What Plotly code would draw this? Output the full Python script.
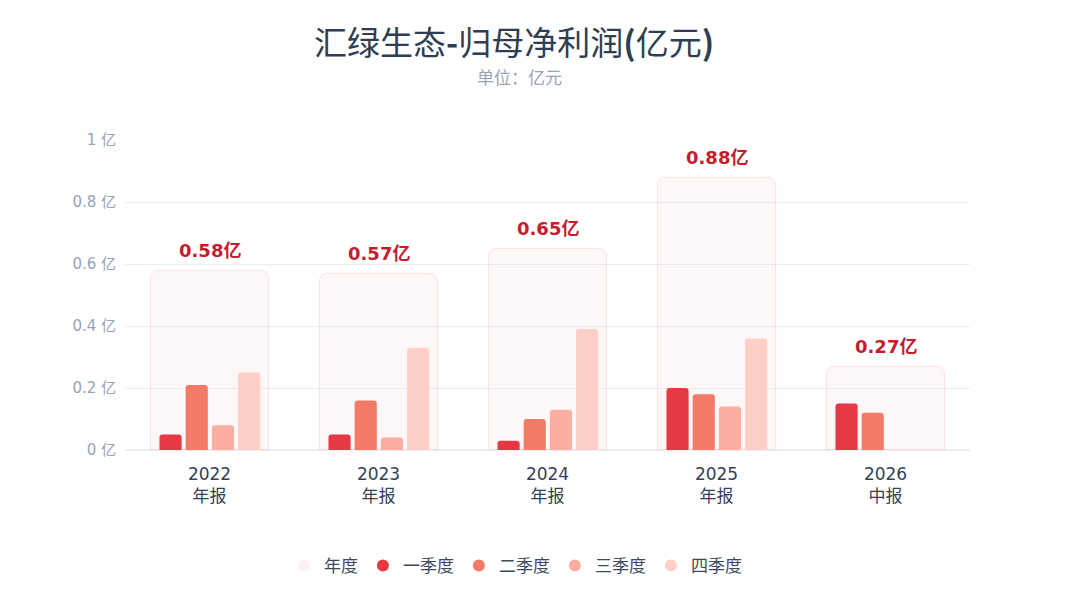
import plotly.graph_objects as go

# data
periods = ["2022<br>年报", "2023<br>年报", "2024<br>年报", "2025<br>年报", "2026<br>中报"]
annual = [0.58, 0.57, 0.65, 0.88, 0.27]
q1 = [0.05, 0.05, 0.03, 0.20, 0.15]
q2 = [0.21, 0.16, 0.10, 0.18, 0.12]
q3 = [0.08, 0.04, 0.13, 0.14, None]
q4 = [0.25, 0.33, 0.39, 0.36, None]
y_ticks = [0, 0.2, 0.4, 0.6, 0.8, 1]
y_tick_text = ["0 亿", "0.2 亿", "0.4 亿", "0.6 亿", "0.8 亿", "1 亿"]

font_fam = "DejaVu Sans, Noto Sans CJK SC, sans-serif"
cjk_fam = "Noto Sans CJK SC, DejaVu Sans, sans-serif"

fig = go.Figure()

# annual background bar
fig.add_trace(go.Bar(
    x=periods, y=annual, name="年度", width=0.7, offset=-0.35,
    marker=dict(color="rgba(232,54,72,0.04)", cornerradius=8,
                line=dict(color="rgba(232,54,72,0.13)", width=1)),
    showlegend=False, hoverinfo="skip"))

quarters = [("一季度", q1, "#e63946"), ("二季度", q2, "#f27b68"),
            ("三季度", q3, "#fcaea1"), ("四季度", q4, "#fecfc8")]
offsets = [-0.296, -0.141, 0.014, 0.169]
for (nm, vals, col), off in zip(quarters, offsets):
    fig.add_trace(go.Bar(
        x=periods, y=vals, name=nm, width=0.131, offset=off,
        marker=dict(color=col, cornerradius=3, line=dict(width=0)),
        showlegend=False))

# legend entries with round markers
legend_items = [("年度", "#fcf1f2")] + [(nm, col) for nm, _, col in quarters]
for nm, col in legend_items:
    fig.add_trace(go.Scatter(
        x=[None], y=[None], mode="markers", name=nm,
        marker=dict(color=col, size=14, symbol="circle")))

# annual value labels
for p, v in zip(periods, annual):
    fig.add_annotation(x=p, y=v, text="<b>%.2f亿</b>" % v, showarrow=False,
                       yshift=20, font=dict(size=18, color="#c41d2e", family=font_fam))

# title and subtitle
fig.add_annotation(xref="paper", yref="paper", x=0.46, y=1.0, yshift=99, yanchor="middle",
                   text="汇绿生态<b>-</b>归母净利润<b>(</b>亿元<b>)</b>", showarrow=False,
                   font=dict(size=33, color="#2f3e52", family=cjk_fam))
fig.add_annotation(xref="paper", yref="paper", x=0.467, y=1.0, yshift=64, yanchor="middle",
                   text="单位：亿元", showarrow=False,
                   font=dict(size=17, color="#97a3b6", family=cjk_fam))

fig.update_layout(
    width=1072, height=592,
    barmode="overlay",
    paper_bgcolor="white", plot_bgcolor="white",
    margin=dict(l=117, r=110, t=132, b=150),
    font=dict(family=font_fam, color="#334155"),
    legend=dict(orientation="h", x=0.462, y=-0.374, xanchor="center", yanchor="middle",
                bgcolor="rgba(0,0,0,0)",
                font=dict(size=17, color="#3d4a5c", family=cjk_fam),
                itemsizing="constant", itemwidth=30, traceorder="normal"),
    xaxis=dict(showgrid=False, showline=False, ticks="", ticklabelstandoff=12,
               tickfont=dict(size=17, color="#334155", family=font_fam)),
    yaxis=dict(range=[0, 1], tickvals=y_ticks, ticktext=y_tick_text,
               gridcolor="#eeeef2", zeroline=True, zerolinecolor="#eeeef2",
               showline=False, ticks="", ticklabelstandoff=8,
               tickfont=dict(size=15, color="#97a3b6", family=font_fam)),
    hovermode="closest",
)

fig.write_html("out.html")
